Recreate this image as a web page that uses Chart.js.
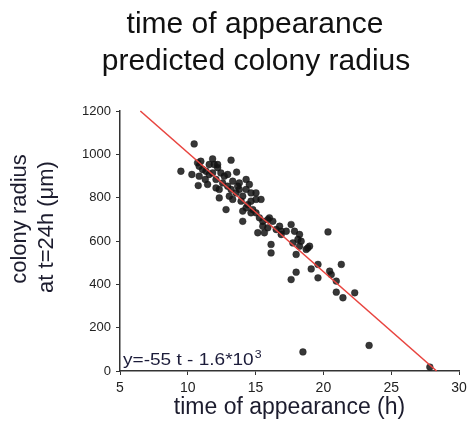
<!DOCTYPE html>
<html>
<head>
<meta charset="utf-8">
<script src="https://cdn.jsdelivr.net/npm/chart.js@4/dist/chart.umd.min.js"></script>
<style>
  html, body { margin: 0; padding: 0; background: #fff; }
  #wrap { width: 475px; height: 421px; position: relative; }
</style>
</head>
<body>
<div id="wrap"><canvas id="chartUI"></canvas></div>
<script>
// Podaci procitani sa slike
var titleLines = ['time of appearance', 'predicted colony radius'];
var yTitleLines = ['colony radius', 'at t=24h (\u03bcm)'];
var xTickValues = [5, 10, 15, 20, 25, 30];
var yTickValues = [0, 200, 400, 600, 800, 1000, 1200];

var timeH = [10.47, 9.49, 10.30, 10.77, 10.72, 10.84, 11.09, 11.83, 11.95, 13.19,
  13.60, 12.82, 14.05, 12.08, 12.32, 12.57, 12.94, 13.31, 13.80, 14.30,
  14.66, 15.03, 14.79, 14.42, 14.05, 13.56, 13.06, 12.32, 11.46, 11.58,
  11.34, 12.20, 12.44, 12.69, 15.03, 15.28, 15.53, 15.16, 16.02, 16.27,
  15.90, 15.65, 16.52, 16.89, 17.62, 17.87, 18.24, 18.12, 17.75, 17.99,
  18.98, 18.73, 16.14, 16.14, 20.34, 17.62, 17.99, 19.10, 19.60, 19.60,
  20.46, 20.58, 20.95, 21.32, 20.95, 21.44, 22.31, 18.49, 23.37, 27.85,
  15.40, 14.54, 14.30, 13.80, 13.31, 12.94, 11.83, 10.96, 11.58, 12.20,
  15.03, 15.53, 17.26, 18.24, 16.77, 13.68, 13.93, 14.30, 14.66, 12.08,
  13.19, 14.05, 14.66, 15.90, 16.89, 18.36, 18.85, 10.84, 11.29];
var radiusUm = [1048, 922, 907, 856, 961, 945, 930, 979, 953, 973,
  918, 745, 691, 884, 838, 868, 853, 876, 868, 838,
  822, 792, 745, 768, 807, 822, 807, 799, 861, 907,
  922, 938, 914, 899, 730, 707, 668, 638, 707, 691,
  661, 638, 653, 630, 676, 645, 630, 607, 591, 538,
  576, 561, 584, 545, 642, 422, 456, 471, 492, 430,
  461, 445, 415, 492, 364, 338, 361, 88, 118, 18,
  792, 861, 884, 838, 792, 907, 914, 968, 953, 953,
  822, 691, 645, 576, 668, 853, 784, 753, 730, 845,
  838, 738, 784, 699, 645, 599, 568, 899, 884];

// linearni fit
var fitT = [6.5, 28.35];
var fitR = [1200, 0];

var toXY = function(xs, ys) {
  var out = [];
  for (var i = 0; i < xs.length; i++) out.push({ x: xs[i], y: ys[i] });
  return out;
};

var FONT = '"Liberation Sans", Arial, sans-serif';

var textPlugin = {
  id: 'textPlugin',
  afterDraw: function(chart) {
    var c = chart.ctx, a = chart.chartArea;
    c.save();
    c.fillStyle = '#111';
    c.textAlign = 'center';
    c.textBaseline = 'alphabetic';
    c.font = '30px ' + FONT;
    c.fillText(titleLines[0], 255, 33);
    c.fillText(titleLines[1], 256, 70);

    // naslov y ose
    c.save();
    c.translate(0, 223);
    c.rotate(-Math.PI / 2);
    c.fillStyle = '#1c1c2e';
    c.textBaseline = 'middle';
    c.font = '22px ' + FONT;
    c.fillText(yTitleLines[0], 4, 20);
    c.fillText(yTitleLines[1], -4, 47);
    c.restore();

    // jednacina fita
    c.textAlign = 'left';
    c.fillStyle = '#1c1c3a';
    var x0 = a.left + 3, y0 = a.bottom - 6;
    c.translate(x0, y0);
    c.scale(1.12, 1);
    c.font = '17px ' + FONT;
    var base = 'y=-55 t - 1.6*10';
    c.fillText(base, 0, 0);
    var w = c.measureText(base).width;
    c.font = '11px ' + FONT;
    c.fillText('3', w + 1, -7);
    c.restore();
  }
};

var ctx = document.getElementById('chartUI');
var scatterChart = new Chart(ctx, {
  type: 'scatter',
  data: {
    datasets: [
      {
        type: 'line',
        data: toXY(fitT, fitR),
        borderColor: '#e8443f',
        borderWidth: 1.6,
        pointRadius: 0,
        fill: false,
        clip: false
      },
      {
        data: toXY(timeH, radiusUm),
        backgroundColor: 'rgba(20,20,20,0.85)',
        borderColor: 'rgba(20,20,20,0.5)',
        borderWidth: 0.8,
        pointRadius: 3.4
      }
    ]
  },
  options: {
    responsive: true,
    maintainAspectRatio: false,
    animation: false,
    events: [],
    layout: { padding: { top: 111, right: 16, bottom: 0, left: 0 } },
    plugins: { legend: { display: false }, tooltip: { enabled: false } },
    scales: {
      x: {
        type: 'linear',
        min: 5, max: 30,
        afterBuildTicks: function(s) { s.ticks = xTickValues.map(function(v) { return { value: v }; }); },
        afterFit: function(s) { s.height = 50; },
        border: { color: '#333', width: 1.5 },
        grid: { drawOnChartArea: false, drawTicks: true, tickLength: 4, color: '#333' },
        ticks: { color: '#222', padding: 5, maxRotation: 0, font: { size: 14, family: FONT } },
        title: { display: true, text: 'time of appearance (h)', color: '#1c1c2e', padding: { top: -16, bottom: 0 },
          font: { size: 23, family: FONT } }
      },
      y: {
        type: 'linear',
        min: 0, max: 1200,
        afterBuildTicks: function(s) { s.ticks = yTickValues.map(function(v) { return { value: v }; }); },
        afterFit: function(s) { s.width = 120; },
        border: { color: '#333', width: 1.5 },
        grid: { drawOnChartArea: false, drawTicks: true, tickLength: 4, color: '#333' },
        ticks: { color: '#222', padding: 5, font: { size: 13, family: FONT },
          callback: function(v) { return String(v); } },
        title: { display: false }
      }
    }
  },
  plugins: [textPlugin]
});
</script>
</body>
</html>
